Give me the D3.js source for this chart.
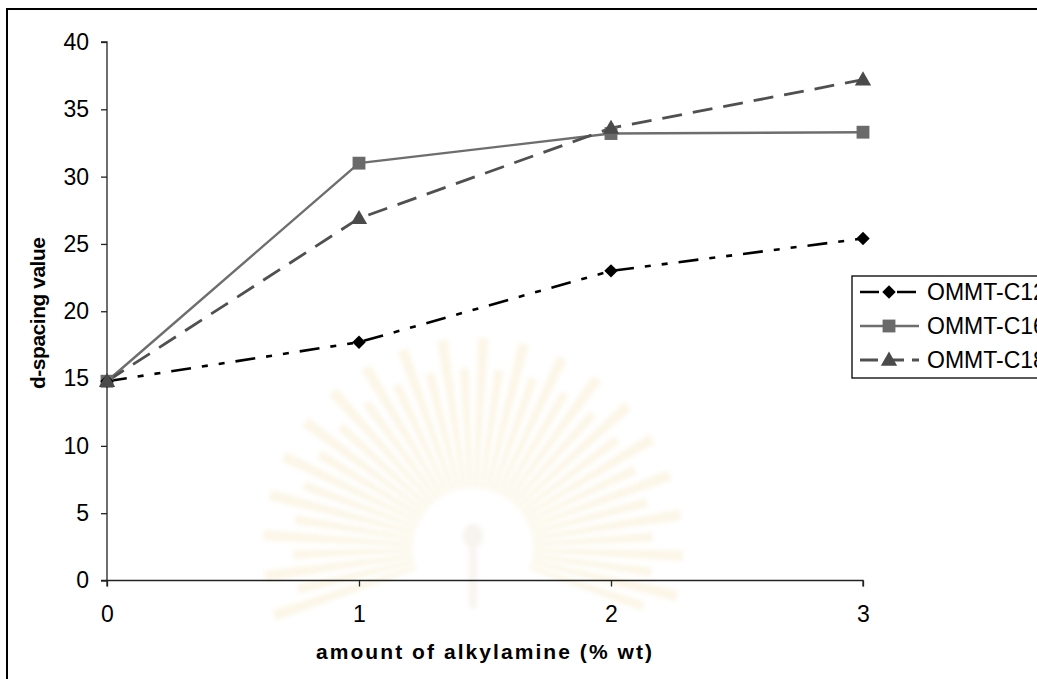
<!DOCTYPE html>
<html>
<head>
<meta charset="utf-8">
<script src="https://cdn.jsdelivr.net/npm/d3@7"></script>
<style>
  html, body { margin: 0; padding: 0; background: #fff; }
  svg { display: block; }
  text { font-family: "Liberation Sans", Arial, sans-serif; fill: #000; }
</style>
</head>
<body>
<svg id="chart" width="1037" height="679"></svg>
<script>
// Alkylamine loading (% wt) on the x axis
const amounts = [0, 1, 2, 3];
const xTicks = [0, 1, 2, 3];
const yTicks = [0, 5, 10, 15, 20, 25, 30, 35, 40];

// d-spacing values for each organoclay
const seriesNames = ["OMMT-C12", "OMMT-C16", "OMMT-C18"];
const c12 = [14.8, 17.7, 23.0, 25.4];
const c16 = [14.8, 31.0, 33.2, 33.3];
const c18 = [14.8, 26.9, 33.6, 37.2];

const svg = d3.select("#chart");
const W = 1037, H = 679;

const defs = svg.append("defs");
defs.append("filter").attr("id", "soft").append("feGaussianBlur").attr("stdDeviation", 2.2);

// outer chart frame (left and top edges visible)
svg.append("rect").attr("x", 7).attr("y", 9).attr("width", W).attr("height", H)
  .attr("fill", "#fff").attr("stroke", "#000").attr("stroke-width", 2);

// faint emblem behind the plot
const wm = svg.append("g").attr("transform", "translate(473,548)")
  .attr("opacity", 0.3).attr("filter", "url(#soft)");
const nRays = 40;
for (let i = 0; i < nRays; i++) {
  const a = -Math.PI - 0.12 * Math.PI + (i + 0.5) * (Math.PI * 1.24 / nRays);
  const r0 = 60, r1 = i % 2 ? 180 : 210;
  const w = 0.032;
  const p = d3.path();
  p.moveTo(r0 * Math.cos(a - w), r0 * Math.sin(a - w));
  p.lineTo(r1 * Math.cos(a - w * 0.8), r1 * Math.sin(a - w * 0.8));
  p.lineTo(r1 * Math.cos(a + w * 0.8), r1 * Math.sin(a + w * 0.8));
  p.lineTo(r0 * Math.cos(a + w), r0 * Math.sin(a + w));
  p.closePath();
  wm.append("path").attr("d", p.toString()).attr("fill", "#f3e2b0");
}
wm.append("circle").attr("r", 55).attr("fill", "#fff");
wm.append("ellipse").attr("cx", 0).attr("cy", -12).attr("rx", 10).attr("ry", 12).attr("fill", "#e6dccb");
wm.append("rect").attr("x", -4).attr("y", 0).attr("width", 8).attr("height", 60).attr("fill", "#e9e0d0");

// scales
const x = d3.scaleLinear().domain([0, 3]).range([107, 863]);
const y = d3.scaleLinear().domain([0, 40]).range([580.5, 42]);

// y axis
const yAxis = d3.axisLeft(y).tickValues(yTicks).tickSize(6).tickPadding(12).tickFormat(d3.format("d"));
const gy = svg.append("g").attr("transform", "translate(107,0)").call(yAxis);
gy.select(".domain").attr("stroke", "#222").attr("stroke-width", 1.3).attr("d", "M-6,42H0V580.5H-6");
gy.selectAll(".tick line").attr("stroke", "#222").attr("stroke-width", 1.3);
gy.selectAll(".tick text").attr("font-size", 23).attr("font-family", "Liberation Sans, Arial, sans-serif").attr("fill", "#000");

// x axis
const xAxis = d3.axisBottom(x).tickValues(xTicks).tickSize(6).tickPadding(19).tickFormat(d3.format("d"));
const gx = svg.append("g").attr("transform", "translate(0,580.5)").call(xAxis);
gx.select(".domain").attr("stroke", "#222").attr("stroke-width", 1.3).attr("d", "M107,6V0H863V6");
gx.selectAll(".tick line").attr("stroke", "#222").attr("stroke-width", 1.3);
gx.selectAll(".tick text").attr("font-size", 23).attr("font-family", "Liberation Sans, Arial, sans-serif").attr("fill", "#000");

// axis titles
svg.append("text").attr("x", 484).attr("y", 659).attr("text-anchor", "middle")
  .attr("font-size", 21).attr("font-weight", "bold")
  .attr("textLength", 336).attr("lengthAdjust", "spacing")
  .text("amount of alkylamine (% wt)");
svg.append("text").attr("transform", "translate(45,313) rotate(-90)").attr("text-anchor", "middle")
  .attr("font-size", 21).attr("font-weight", "bold")
  .attr("textLength", 152).attr("lengthAdjust", "spacing")
  .text("d-spacing value");

// series styles
const styles = [
  { data: c12, color: "#000", width: 2.6, dash: "20,11,6,11,6,11", marker: d3.symbolDiamond2, msize: 115, mcolor: "#000" },
  { data: c16, color: "#6e6e6e", width: 2.4, dash: null, marker: d3.symbolSquare, msize: 165, mcolor: "#6a6a6a" },
  { data: c18, color: "#505050", width: 2.8, dash: "20,11", marker: d3.symbolTriangle, msize: 115, mcolor: "#4a4a4a" }
];

const line = d3.line().x((d, i) => x(amounts[i])).y(d => y(d));

// draw C12 last so it sits on top at x=0
[1, 2, 0].forEach(k => {
  const s = styles[k];
  svg.append("path").datum(s.data).attr("d", line)
    .attr("fill", "none").attr("stroke", s.color).attr("stroke-width", s.width)
    .attr("stroke-dasharray", s.dash);
});
[1, 0, 2].forEach(k => {
  const s = styles[k];
  const sym = d3.symbol().type(s.marker).size(s.msize);
  svg.append("g").selectAll("path").data(s.data).join("path")
    .attr("transform", (d, i) => `translate(${x(amounts[i])},${y(d) + (s.marker === d3.symbolTriangle ? 1 : 0)})`)
    .attr("d", sym).attr("fill", s.mcolor);
});

// legend (its right side runs past the chart edge)
const lg = svg.append("g");
lg.append("rect").attr("x", 852).attr("y", 276).attr("width", 200).attr("height", 102)
  .attr("fill", "#fff").attr("stroke", "#000").attr("stroke-width", 1.3);
const rowsY = [292, 326, 360];
styles.forEach((s, i) => {
  const yy = rowsY[i];
  const legendDash = i === 0 ? "19,6,6,6" : (i === 2 ? "18,8" : null);
  lg.append("line").attr("x1", 860).attr("x2", 919).attr("y1", yy).attr("y2", yy)
    .attr("stroke", s.color).attr("stroke-width", s.width).attr("stroke-dasharray", legendDash);
  lg.append("path").attr("transform", `translate(889,${yy + (i === 2 ? 1 : 0)})`)
    .attr("d", d3.symbol().type(s.marker).size(s.msize)).attr("fill", s.mcolor);
  lg.append("text").attr("x", 927).attr("y", yy + 8).attr("font-size", 23).text(seriesNames[i]);
});
</script>
</body>
</html>
